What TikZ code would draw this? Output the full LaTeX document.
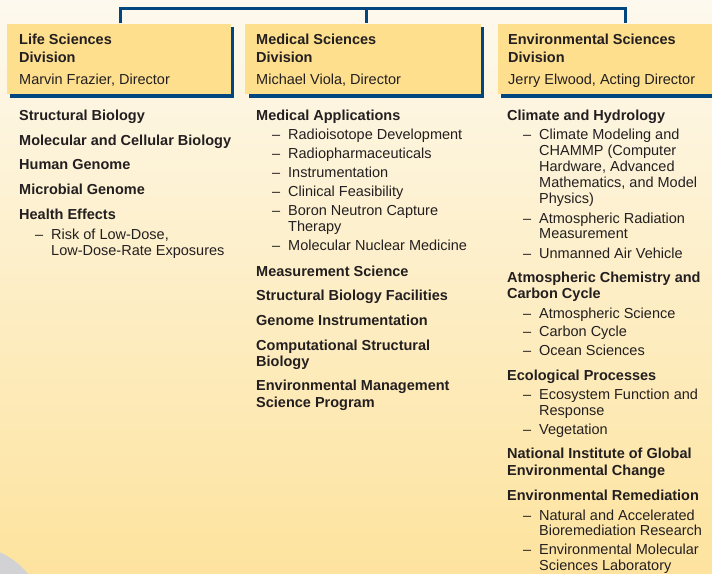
\documentclass[tikz,border=0pt]{standalone}
\usepackage{fontspec}
\setmainfont{Liberation Sans}
\usetikzlibrary{shadows}
\definecolor{bgtop}{RGB}{253,249,238}
\definecolor{bgbot}{RGB}{253,227,158}
\definecolor{boxfill}{RGB}{253,223,142}
\definecolor{blu}{RGB}{0,70,127}
\definecolor{txt}{RGB}{35,31,32}
\definecolor{disc}{RGB}{210,210,212}
\tikzset{
  divbox/.style={rectangle, fill=boxfill, inner sep=0pt, anchor=north west,
    drop shadow={shadow xshift=3.5pt, shadow yshift=-3.5pt, fill=blu, opacity=1}},
  conn/.style={draw=blu, line width=3pt, line join=miter},
  hd/.style={font=\bfseries, anchor=base west, inner sep=0pt, text=txt},
  it/.style={anchor=base west, inner sep=0pt, text=txt},
}
\begin{document}
\begin{tikzpicture}[x=1pt,y=-1pt, every node/.append style={font=\fontsize{14.5}{16}\selectfont}]
\useasboundingbox (0,0) rectangle (712,573);
\begin{scope}
\clip (0,0) rectangle (712,573);
\shade[top color=bgtop, bottom color=bgbot] (0,0) rectangle (712,573);
\fill[disc] (-30,620) circle (74pt);
\end{scope}

% connectors
\coordinate (cL) at (120,8);
\coordinate (cM) at (366.5,8);
\coordinate (cR) at (625.5,8);

% division boxes
\node[divbox, minimum width=223.6pt, minimum height=70.9pt] (life) at (6.7,23.3) {};
\node[divbox, minimum width=235.7pt, minimum height=70.9pt] (med) at (245,23.3) {};
\node[divbox, minimum width=220pt, minimum height=70.9pt] (env) at (497.7,23.3) {};

\begin{scope}[on background layer/.style={}]
\draw[conn] (cL |- life.north) -- (cL) -- (cR) -- (cR |- env.north);
\draw[conn] (cM) -- (cM |- med.north);
\end{scope}

% header texts
\node[hd, font=\fontsize{14.5}{16}\selectfont\bfseries] (lh1) at (19,44) {Life Sciences};
\node[hd, font=\fontsize{14.5}{16}\selectfont\bfseries] (lh2) at (19,62) {Division};
\node[it] (lh3) at (19,84) {Marvin Frazier, Director};
\node[hd, font=\fontsize{14.5}{16}\selectfont\bfseries] (mh1) at (256,44) {Medical Sciences};
\node[hd, font=\fontsize{14.5}{16}\selectfont\bfseries] (mh2) at (256,62) {Division};
\node[it] (mh3) at (256,84) {Michael Viola, Director};
\node[hd, font=\fontsize{14.5}{16}\selectfont\bfseries] (eh1) at (508,44) {Environmental Sciences};
\node[hd, font=\fontsize{14.5}{16}\selectfont\bfseries] (eh2) at (508,62) {Division};
\node[it] (eh3) at (508,84) {Jerry Elwood, Acting Director};

\tikzset{hd/.append style={font=\fontsize{14.5}{16}\selectfont\bfseries}}

% Life column
\node[hd] (L1) at (19,120.7) {Structural Biology};
\node[hd] (L2) at (19,145.3) {Molecular and Cellular Biology};
\node[hd] (L3) at (19,169.7) {Human Genome};
\node[hd] (L4) at (19,194.3) {Microbial Genome};
\node[hd] (L5) at (19,219.3) {Health Effects};
\node[it] (Ld1) at (35,239.3) {–};
\node[it] (L6) at (51,239.3) {Risk of Low-Dose,};
\node[it] (L7) at (51,255.3) {Low-Dose-Rate Exposures};

% Medical column
\node[hd] (M1) at (256,120.7) {Medical Applications};
\node[it] (Md1) at (272,139.3) {–};
\node[it] (M2) at (288,139.3) {Radioisotope Development};
\node[it] (Md2) at (272,158.3) {–};
\node[it] (M3) at (288,158.3) {Radiopharmaceuticals};
\node[it] (Md3) at (272,177.3) {–};
\node[it] (M4) at (288,177.3) {Instrumentation};
\node[it] (Md4) at (272,196) {–};
\node[it] (M5) at (288,196) {Clinical Feasibility};
\node[it] (Md5) at (272,215) {–};
\node[it] (M6) at (288,215) {Boron Neutron Capture};
\node[it] (M7) at (288,231) {Therapy};
\node[it] (Md6) at (272,250.7) {–};
\node[it] (M8) at (288,250.7) {Molecular Nuclear Medicine};
\node[hd] (M9) at (256,276) {Measurement Science};
\node[hd] (M10) at (256,300.7) {Structural Biology Facilities};
\node[hd] (M11) at (256,325.7) {Genome Instrumentation};
\node[hd] (M12) at (256,350) {Computational Structural};
\node[hd] (M13) at (256,366.5) {Biology};
\node[hd] (M14) at (256,390.7) {Environmental Management};
\node[hd] (M15) at (256,407.5) {Science Program};

% Environmental column
\node[hd] (E1) at (507,120.7) {Climate and Hydrology};
\node[it] (Ed1) at (523,139.3) {–};
\node[it] (E2) at (539,139.3) {Climate Modeling and};
\node[it] (E3) at (539,155.5) {CHAMMP (Computer};
\node[it] (E4) at (539,171.5) {Hardware, Advanced};
\node[it] (E5) at (539,187.3) {Mathematics, and Model};
\node[it] (E6) at (539,203) {Physics)};
\node[it] (Ed2) at (523,223.3) {–};
\node[it] (E7) at (539,223.3) {Atmospheric Radiation};
\node[it] (E8) at (539,238.8) {Measurement};
\node[it] (Ed3) at (523,258.3) {–};
\node[it] (E9) at (539,258.3) {Unmanned Air Vehicle};
\node[hd] (E10) at (507,282.3) {Atmospheric Chemistry and};
\node[hd] (E11) at (507,298.5) {Carbon Cycle};
\node[it] (Ed4) at (523,318.3) {–};
\node[it] (E12) at (539,318.3) {Atmospheric Science};
\node[it] (Ed5) at (523,336.7) {–};
\node[it] (E13) at (539,336.7) {Carbon Cycle};
\node[it] (Ed6) at (523,355.7) {–};
\node[it] (E14) at (539,355.7) {Ocean Sciences};
\node[hd] (E15) at (507,380) {Ecological Processes};
\node[it] (Ed7) at (523,399) {–};
\node[it] (E16) at (539,399) {Ecosystem Function and};
\node[it] (E17) at (539,415) {Response};
\node[it] (Ed8) at (523,434) {–};
\node[it] (E18) at (539,434) {Vegetation};
\node[hd] (E19) at (507,458.3) {National Institute of Global};
\node[hd] (E20) at (507,475) {Environmental Change};
\node[hd] (E21) at (507,500) {Environmental Remediation};
\node[it] (Ed9) at (523,520) {–};
\node[it] (E22) at (539,520) {Natural and Accelerated};
\node[it] (E23) at (539,535.5) {Bioremediation Research};
\node[it] (Ed10) at (523,554) {–};
\node[it] (E24) at (539,554) {Environmental Molecular};
\node[it] (E25) at (539,570) {Sciences Laboratory};
\end{tikzpicture}
\end{document}
